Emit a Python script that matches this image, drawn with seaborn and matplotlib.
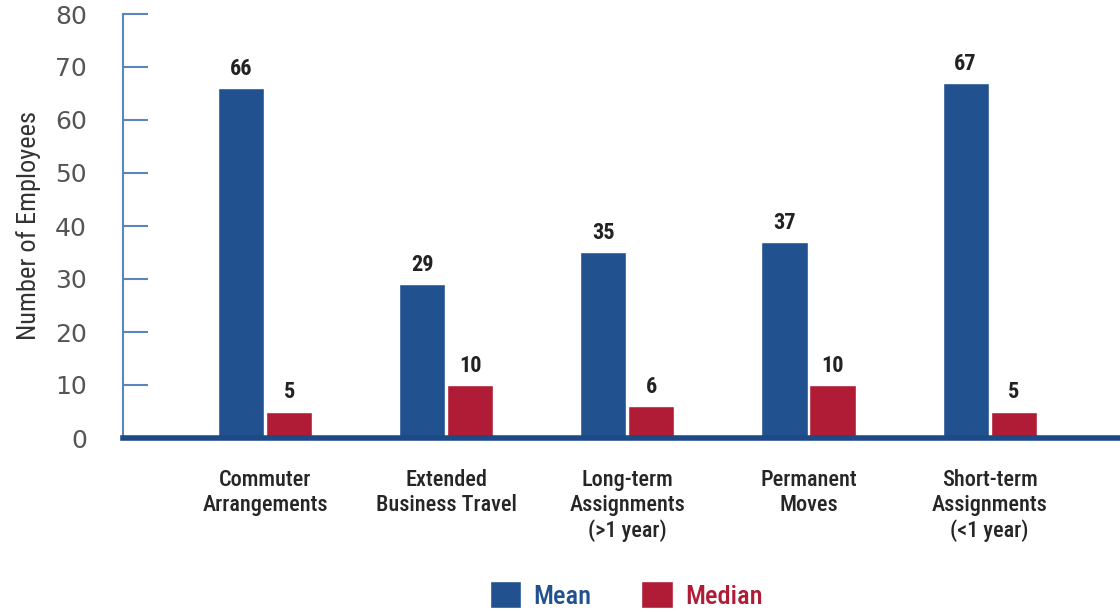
import matplotlib
matplotlib.use("Agg")
import matplotlib.pyplot as plt
import seaborn as sns
import pandas as pd
from matplotlib.patches import Patch
from matplotlib import font_manager

categories = ["Commuter\nArrangements", "Extended\nBusiness Travel",
              "Long-term\nAssignments\n(>1 year)", "Permanent\nMoves",
              "Short-term\nAssignments\n(<1 year)"]
mean_vals = [66, 29, 35, 37, 67]
median_vals = [5, 10, 6, 10, 5]
series = ["Mean", "Median"]
yticks = [0, 10, 20, 30, 40, 50, 60, 70, 80]

BLUE = "#22518f"
RED = "#b01c35"

sns.set_theme(style="white")
names = {f.name for f in font_manager.fontManager.ttflist}
cond_family = "DejaVu Sans"
cond_stretch = "normal"
for cand in ["Liberation Sans Narrow", "Roboto Condensed", "Open Sans Condensed", "DejaVu Sans Condensed"]:
    if cand in names:
        cond_family = cand
        break
else:
    p = font_manager.findfont(font_manager.FontProperties(family="DejaVu Sans", stretch="condensed"))
    if "Condensed" in p:
        cond_stretch = "condensed"
plt.rcParams["font.family"] = [cond_family, "DejaVu Sans"]
plt.rcParams["font.stretch"] = cond_stretch

df = pd.DataFrame({
    "Category": categories * 2,
    "Series": ["Mean"] * 5 + ["Median"] * 5,
    "Value": mean_vals + median_vals,
})

fig = plt.figure(figsize=(11.2, 6.12), dpi=100)
ax = fig.add_axes([123 / 1120, (612 - 438) / 612, 1 - 123 / 1120, (438 - 14) / 612])

sns.barplot(data=df, x="Category", y="Value", hue="Series", order=categories,
            hue_order=series, palette=[BLUE, RED], width=0.53, gap=0.04,
            ax=ax, legend=False, saturation=1)

for cont in ax.containers:
    ax.bar_label(cont, labels=[f"{int(v)}" for v in cont.datavalues], padding=6,
                 fontsize=16, fontweight="bold", color="#222222")

ax.set_ylim(0, 80)
ax.set_xlim(-0.785, 4.72)
ax.set_yticks(yticks)
ax.set_yticklabels([str(t) for t in yticks], fontsize=18, color="#555555",
                   family="DejaVu Sans", stretch="normal")
ax.tick_params(axis="y", direction="in", length=18, width=1.5, color="#5b86bd", pad=26, left=True)
ax.tick_params(axis="x", length=0, pad=22, labelsize=16, labelcolor="#262626")
for t in ax.get_xticklabels():
    t.set_fontweight("medium")
ax.set_xlabel("")
ax.set_ylabel("Number of Employees", fontsize=19, color="#333333", labelpad=10)

for s in ["top", "right"]:
    ax.spines[s].set_visible(False)
ax.spines["left"].set_color("#5b86bd")
ax.spines["left"].set_linewidth(1.5)
ax.spines["bottom"].set_color("#1d4a86")
ax.spines["bottom"].set_linewidth(4)

handles = [Patch(facecolor=BLUE, label="Mean"), Patch(facecolor=RED, label="Median")]
leg = fig.legend(handles=handles, loc="center", bbox_to_anchor=(626 / 1120, 1 - 595 / 612), ncol=2,
                 frameon=False, fontsize=19, labelcolor=[BLUE, RED], handlelength=1.2,
                 handleheight=1.15, columnspacing=1.9, handletextpad=0.45)
for t in leg.get_texts():
    t.set_fontweight("medium")

fig.savefig("out.png", dpi=100)
